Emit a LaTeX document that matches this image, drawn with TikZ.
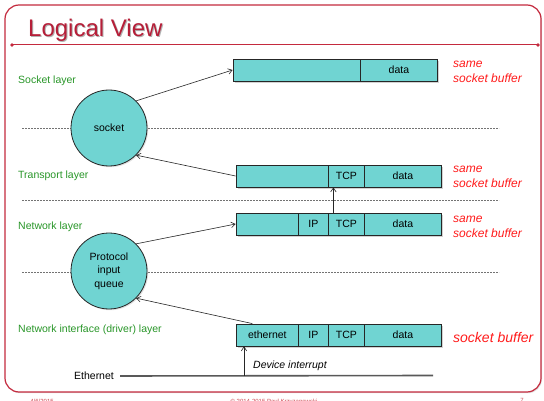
\documentclass[tikz,border=0pt]{standalone}
\usepackage{fontspec}
\setmainfont{Liberation Sans}
\usetikzlibrary{arrows.meta,shadows}
\definecolor{cellfill}{RGB}{112,212,210}
\definecolor{framered}{RGB}{196,42,62}
\definecolor{titlered}{RGB}{182,30,56}
\definecolor{layergreen}{RGB}{40,150,40}
\definecolor{bufred}{RGB}{255,28,28}
\definecolor{footred}{RGB}{205,70,80}
\begin{document}
\begin{tikzpicture}[x=1pt,y=-1pt,
  font=\fontsize{10.5}{12.6}\selectfont,
  pkt/.style={draw=black!85, fill=cellfill, line width=0.8pt, inner sep=0,
    minimum height=22pt,
    drop shadow={shadow xshift=1.6pt, shadow yshift=-1.6pt, opacity=0.35}},
  cell/.style={draw=black!85, line width=0.8pt, inner sep=0, minimum height=22pt, anchor=west},
  bubble/.style={circle, draw=black!85, fill=cellfill, line width=0.8pt, inner sep=0,
    minimum size=76pt, align=center, font=\fontsize{10.5}{13.3}\selectfont,
    drop shadow={shadow xshift=1.2pt, shadow yshift=-1.2pt, opacity=0.25}},
  layer/.style={text=layergreen, anchor=west, inner sep=0},
  buf/.style={text=bufred, anchor=north west, inner sep=0, align=left,
    font=\fontsize{12}{15}\selectfont\itshape},
  sep/.style={dash pattern=on 1.8pt off 1.2pt, line width=0.8pt, black!55},
  arr/.style={-{Straight Barb[length=4pt,width=5.5pt]}, line width=0.6pt, black!85},
  foot/.style={text=footred, font=\fontsize{6}{7}\selectfont, anchor=north, inner sep=0}
]
\useasboundingbox (0,0) rectangle (544,401);
\fill[white] (0,0) rectangle (544,401);

% slide frame and title
\draw[framered, line width=1.2pt, fill=white, rounded corners=14pt,
  drop shadow={shadow xshift=1pt, shadow yshift=-1.2pt, opacity=0.25}]
  (5,5) rectangle (541,392);
\node[anchor=base west, inner sep=0, text=black!30, font=\fontsize{24}{28}\selectfont]
  at (29,37.8) {Logical View};
\node[anchor=base west, inner sep=0, text=titlered, font=\fontsize{24}{28}\selectfont]
  (title) at (28,37) {Logical View};
\draw[framered, line width=1pt] (12,45) -- (538,45);
\fill[framered] (12,45) circle (1.8pt) (538,45) circle (1.8pt);

% layer boundaries
\draw[sep] (22,128) -- (499,128);
\draw[sep] (22,200) -- (499,200);
\draw[sep] (22,272) -- (499,272);

% layer names
\node[layer] (lsock) at (18,81) {Socket layer};
\node[layer] (ltrans) at (18,176) {Transport layer};
\node[layer] (lnet) at (18,227) {Network layer};
\node[layer] (lif) at (18,330) {Network interface (driver) layer};

% queues
\node[bubble] (sock) at (109,128) {socket};
\node[bubble] (pq) at (109,271) {Protocol\\input\\queue};

% socket layer buffer
\node[pkt, minimum width=204pt] (b1) at (335,70) {};
\node[cell, minimum width=77pt] (data1) at (360,70) {data};

% transport layer buffer
\node[pkt, minimum width=205pt] (b2) at (338.5,176) {};
\node[cell, minimum width=36pt] (tcp2) at (328,176) {TCP};
\node[cell, minimum width=77pt] (data2) at (364,176) {data};

% network layer buffer
\node[pkt, minimum width=205pt] (b3) at (338.5,224) {};
\node[cell, minimum width=30pt] (ip3) at (298,224) {IP};
\node[cell, minimum width=36pt] (tcp3) at (328,224) {TCP};
\node[cell, minimum width=77pt] (data3) at (364,224) {data};

% driver layer buffer
\node[pkt, minimum width=205pt] (b4) at (338.5,335) {};
\node[cell, minimum width=62pt] (eth4) at (236,335) {ethernet};
\node[cell, minimum width=30pt] (ip4) at (298,335) {IP};
\node[cell, minimum width=36pt] (tcp4) at (328,335) {TCP};
\node[cell, minimum width=77pt] (data4) at (364,335) {data};

% buffer notes
\node[buf] (n1) at (453,61) {same\\socket buffer};
\node[buf] (n2) at (453,166) {same\\socket buffer};
\node[buf] (n3) at (453,216) {same\\socket buffer};
\node[buf, font=\fontsize{14}{16}\selectfont\itshape, anchor=west] (n4) at (453,337) {socket buffer};

% data flow
\draw[arr] (sock.45) -- (b1.west);
\draw[arr] (b2.west) -- (sock.-45);
\draw[arr] ([xshift=-13pt]tcp3.north) -- ([xshift=-13pt]tcp2.south);
\draw[arr] (pq.45) -- (b3.west);
\draw[arr] ([xshift=-15pt]eth4.north) -- (pq.-45);

% wire and interrupt
\node[inner sep=0] (ethl) at (94,376) {Ethernet};
\coordinate (ethend) at (433,375.5);
\draw[black!65, line width=1.6pt] ([xshift=6pt]ethl.east) -- (ethend);
\coordinate (irq) at (244,375.5);
\draw[arr] (irq) -- (irq |- b4.south);
\node[anchor=west, inner sep=0, font=\fontsize{10.5}{12.6}\selectfont\itshape] (irqlabel) at (253,366) {Device interrupt};

% footer
\node[foot] (fdate) at (42,398.5) {4/6/2015};
\node[foot] (fcopy) at (274,398.5) {© 2014-2015 Paul Krzyzanowski};
\node[foot] (fpage) at (522,398.5) {7};
\end{tikzpicture}
\end{document}
